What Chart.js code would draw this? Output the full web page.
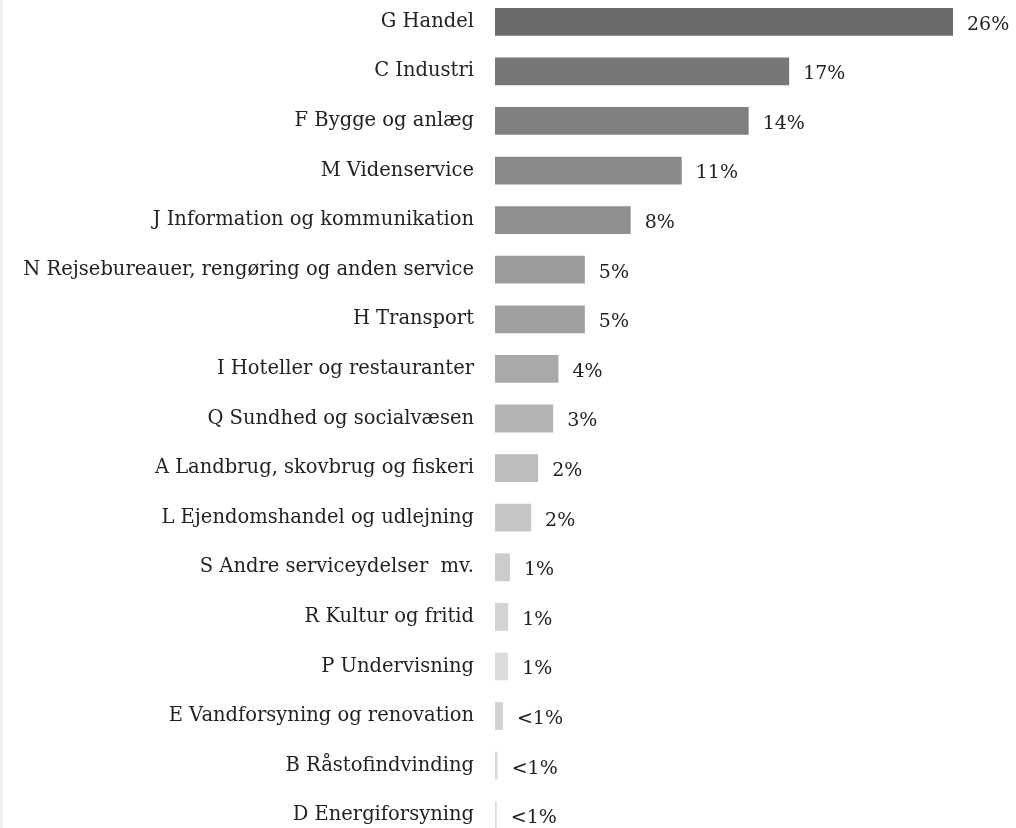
<!DOCTYPE html>
<html>
<head>
<meta charset="utf-8">
<script src="https://cdn.jsdelivr.net/npm/chart.js@4"></script>
<style>
    html, body { margin: 0; padding: 0; background: #fff; overflow: hidden; }
    body { width: 1016px; height: 828px; position: relative; }
    #edge { position: absolute; left: 0; top: 0; width: 3px; height: 828px; background: #efefef; }
    #wrap { position: absolute; left: 0; top: -3px; width: 1016px; height: 843px; }
</style>
</head>
<body>
<div id="edge"></div>
<div id="wrap"><canvas id="branche"></canvas></div>
<script>
const categories = [
    'G Handel',
    'C Industri',
    'F Bygge og anlæg',
    'M Videnservice',
    'J Information og kommunikation',
    'N Rejsebureauer, rengøring og anden service',
    'H Transport',
    'I Hoteller og restauranter',
    'Q Sundhed og socialvæsen',
    'A Landbrug, skovbrug og fiskeri',
    'L Ejendomshandel og udlejning',
    'S Andre serviceydelser  mv.',
    'R Kultur og fritid',
    'P Undervisning',
    'E Vandforsyning og renovation',
    'B Råstofindvinding',
    'D Energiforsyning'
];
// share of companies, percent
const shares = [26, 16.7, 14.4, 10.6, 7.7, 5.1, 5.1, 3.6, 3.3, 2.45, 2.05, 0.85, 0.75, 0.75, 0.45, 0.15, 0.1];
const barColors = [
    '#6b6b6b', '#777777', '#808080', '#898989', '#8f8f8f', '#9b9b9b', '#a0a0a0', '#a9a9a9',
    '#b3b3b3', '#bdbdbd', '#c6c6c6', '#cccccc', '#d4d4d4', '#dcdcdc', '#d3d3d3', '#d9d9d9', '#dddddd'
];

const FONT = '"DejaVu Serif", "Liberation Serif", serif';

function pctLabel(v) {
    const r = Math.round(v);
    return r < 1 ? '<1%' : r + '%';
}

const valueLabels = {
    id: 'valueLabels',
    afterDatasetsDraw(chart) {
        const ctx = chart.ctx;
        const meta = chart.getDatasetMeta(0);
        ctx.save();
        ctx.font = '19px ' + FONT;
        ctx.fillStyle = '#222';
        ctx.textAlign = 'left';
        ctx.textBaseline = 'middle';
        meta.data.forEach((bar, i) => {
            ctx.fillText(pctLabel(shares[i]), bar.x + 14, bar.y + 3);
        });
        ctx.restore();
    }
};

new Chart(document.getElementById('branche'), {
    type: 'bar',
    data: {
        labels: categories,
        datasets: [{
            data: shares,
            backgroundColor: barColors,
            borderWidth: 0,
            barPercentage: 0.56,
            categoryPercentage: 1
        }]
    },
    options: {
        indexAxis: 'y',
        responsive: true,
        maintainAspectRatio: false,
        animation: false,
        layout: { padding: { left: 0, right: 63, top: 0, bottom: 0 } },
        plugins: { legend: { display: false }, tooltip: { enabled: false } },
        scales: {
            x: { display: false, min: 0, max: 26 },
            y: {
                grid: { display: false, drawTicks: false },
                border: { display: false },
                afterFit(scale) {
                    // fixed label column, rows use the full height
                    scale.width = 495;
                    scale.paddingTop = 0;
                    scale.paddingBottom = 0;
                },
                ticks: {
                    padding: 21,
                    color: '#222',
                    autoSkip: false,
                    font: { family: FONT, size: 19.5 }
                }
            }
        }
    },
    plugins: [valueLabels]
});
</script>
</body>
</html>
